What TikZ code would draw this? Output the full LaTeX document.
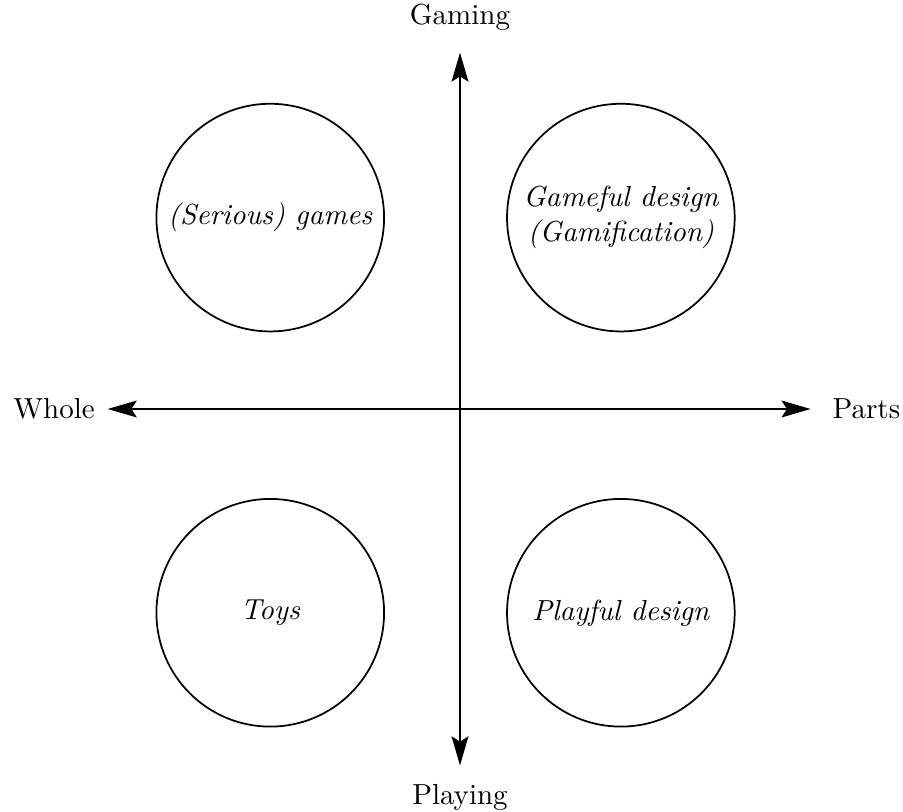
\documentclass[tikz,border=0pt]{standalone}
\usetikzlibrary{arrows.meta,positioning}
\begin{document}
\begin{tikzpicture}[semithick,
  quadrant/.style = {circle, draw, minimum size=2.76cm,
    inner sep=1pt, align=center, font=\itshape},
  axis/.style = {{Stealth[length=10pt,width=5.8pt,inset=1.8pt]}-{Stealth[length=10pt,width=5.8pt,inset=1.8pt]}}
  ]
  \useasboundingbox (-5.576,-4.885) rectangle (5.370,4.958);
  % axis ends
  \coordinate (left end) at (-4.27,0);
  \coordinate (right end) at (4.25,0);
  \coordinate (top end) at (0,4.32);
  \coordinate (bottom end) at (0,-4.32);
  % axis labels
  \node (whole) [left=0.03cm of left end] {Whole};
  \node (parts) [right=0.14cm of right end] {Parts};
  \node (gaming) [above=0.14cm of top end] {Gaming};
  \node (playing) [below=0.10cm of bottom end] {Playing};
  % axes
  \draw[axis] (left end) -- (right end);
  \draw[axis] (bottom end) -- (top end);
  % quadrants
  \node[quadrant] (games) at (-2.30,2.32) {(Serious) games};
  \node[quadrant] (gameful) at (1.95,2.32) {Gameful design\\(Gamification)};
  \node[quadrant] (toys) at (-2.30,-2.47) {Toys};
  \node[quadrant] (playful) at (1.95,-2.47) {Playful design};
\end{tikzpicture}
\end{document}
